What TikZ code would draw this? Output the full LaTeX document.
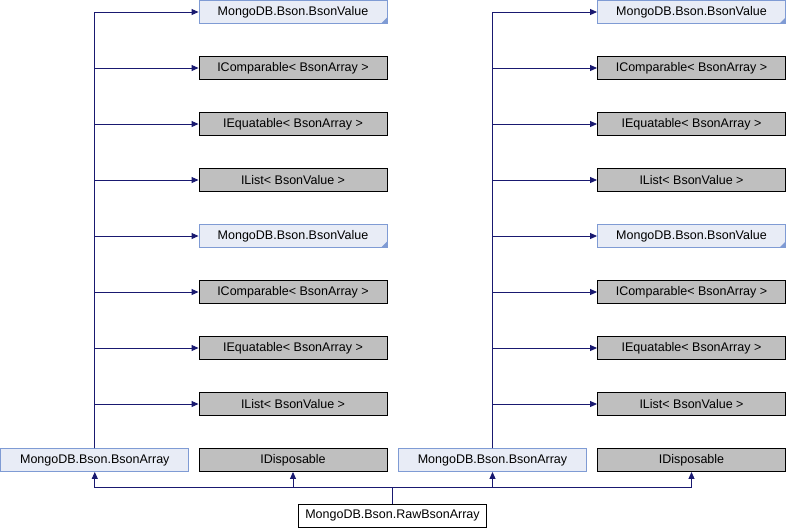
\documentclass[tikz,border=0pt]{standalone}
\usepackage{fontspec}
\setmainfont{Liberation Sans}
\usetikzlibrary{arrows.meta}
\definecolor{edgecol}{HTML}{191970}
\definecolor{lfill}{HTML}{E8ECF6}
\definecolor{lborder}{HTML}{7F9BD4}
\definecolor{gfill}{HTML}{BFBFBF}
\begin{document}
\begin{tikzpicture}[x=1pt,y=-1pt,
  base/.style={minimum width=188pt,minimum height=23pt,inner sep=0pt,line width=0.9pt,font=\fontsize{12.5}{14}\selectfont},
  extbox/.style={base,draw=lborder,fill=lfill},
  extfold/.style={extbox,path picture={\fill[lborder] (path picture bounding box.south east) -- ++(-6pt,0) -- ++(6pt,6pt) -- cycle;}},
  ifbox/.style={base,draw=black,fill=gfill},
  mainbox/.style={base,draw=black,fill=white},
  inh/.style={draw=edgecol,line width=0.9pt,-{Triangle[length=7pt,width=6pt]}}]
\useasboundingbox (0,0) rectangle (786,528);
% left column targets
\node[extfold] (lv1) at (293,12) {MongoDB.Bson.BsonValue};
\node[ifbox] (lc1) at (293,68) {IComparable< BsonArray >};
\node[ifbox] (le1) at (293,124) {IEquatable< BsonArray >};
\node[ifbox] (ll1) at (293,180) {IList< BsonValue >};
\node[extfold] (lv2) at (293,236) {MongoDB.Bson.BsonValue};
\node[ifbox] (lc2) at (293,292) {IComparable< BsonArray >};
\node[ifbox] (le2) at (293,348) {IEquatable< BsonArray >};
\node[ifbox] (ll2) at (293,404) {IList< BsonValue >};
% right column targets
\node[extfold] (rv1) at (691.5,12) {MongoDB.Bson.BsonValue};
\node[ifbox] (rc1) at (691.5,68) {IComparable< BsonArray >};
\node[ifbox] (re1) at (691.5,124) {IEquatable< BsonArray >};
\node[ifbox] (rl1) at (691.5,180) {IList< BsonValue >};
\node[extfold] (rv2) at (691.5,236) {MongoDB.Bson.BsonValue};
\node[ifbox] (rc2) at (691.5,292) {IComparable< BsonArray >};
\node[ifbox] (re2) at (691.5,348) {IEquatable< BsonArray >};
\node[ifbox] (rl2) at (691.5,404) {IList< BsonValue >};
% bottom row
\node[extbox] (bal) at (94.8,460) {MongoDB.Bson.BsonArray};
\node[ifbox] (idl) at (293,460) {IDisposable};
\node[extbox] (bar) at (492.5,460) {MongoDB.Bson.BsonArray};
\node[ifbox] (idr) at (691.5,460) {IDisposable};
\node[mainbox] (raw) at (392.5,515.5) {MongoDB.Bson.RawBsonArray};
% left inheritance
\foreach \t in {lv1,lc1,le1,ll1,lv2,lc2,le2,ll2}{\draw[inh] (bal.north) |- (\t.west);}
\foreach \t in {rv1,rc1,re1,rl1,rv2,rc2,re2,rl2}{\draw[inh] (bar.north) |- (\t.west);}
% bottom
\coordinate (j) at ([yshift=16pt]raw.north);
\foreach \t in {bal,idl,bar,idr}{\draw[inh] (raw.north) -- (j) -| (\t.south);}
\end{tikzpicture}
\end{document}
